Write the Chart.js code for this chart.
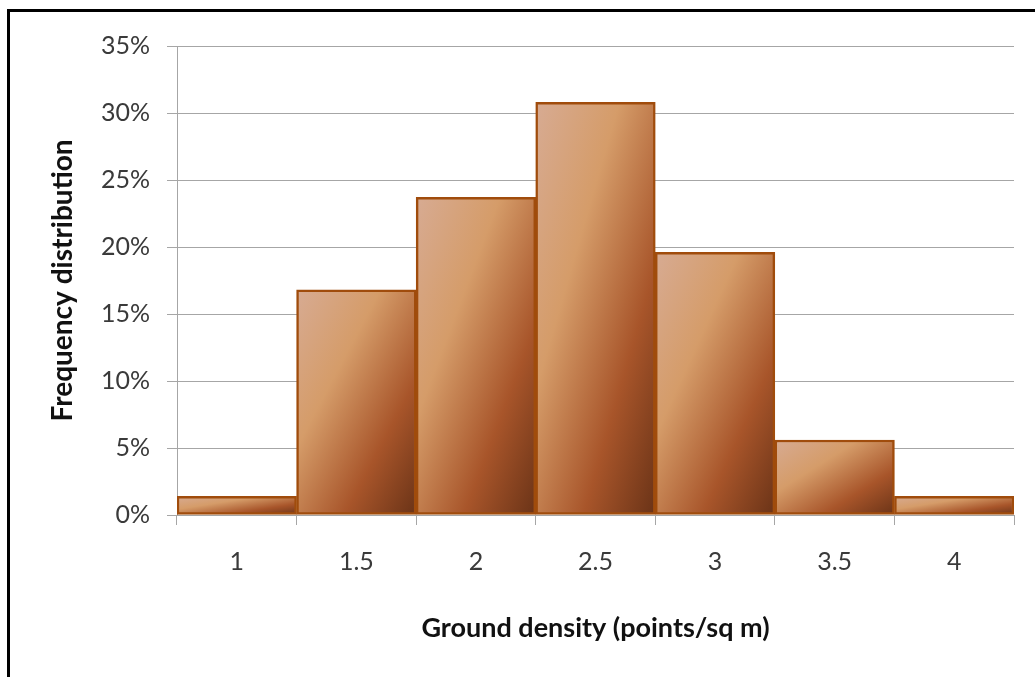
<!DOCTYPE html>
<html>
<head>
<meta charset="utf-8">
<script src="https://cdn.jsdelivr.net/npm/chart.js@4/dist/chart.umd.min.js"></script>
<style>
  html, body { margin: 0; padding: 0; background: #fff; }
  #wrap { position: relative; width: 1035px; height: 677px; overflow: hidden; }
  #frame {
    position: absolute; left: 7px; top: 9px; right: -10px; bottom: -10px;
    border-top: 3px solid #000; border-left: 3px solid #000;
    pointer-events: none;
  }
  canvas { position: absolute; left: 0; top: 0; }
</style>
</head>
<body>
<div id="wrap">
  <canvas id="chart" width="1035" height="677"></canvas>
  <div id="frame"></div>
</div>
<script>
// Ground density bins (points per square metre)
const categories = ['1', '1.5', '2', '2.5', '3', '3.5', '4'];
// Share of samples in each bin, in percent
const frequency = [1.4, 16.8, 23.7, 30.8, 19.6, 5.6, 1.4];
// Y axis tick range (percent)
const yTicks = { min: 0, max: 35, step: 5 };

const FONT = "Lato, 'Open Sans', sans-serif";

// Diagonal copper gradient, stretched to each bar's own box so that the
// bands run corner to corner whatever the bar's shape.
function barGradient(context) {
  const chart = context.chart;
  const area = chart.chartArea;
  if (!area || context.type !== 'data') return '#b06a3c';
  const xs = chart.scales.x, ys = chart.scales.y;
  const v = context.parsed ? context.parsed.y : frequency[context.dataIndex];
  const w = (xs.right - xs.left) / categories.length;
  const cx = xs.getPixelForValue(context.dataIndex);
  const top = ys.getPixelForValue(v);
  const base = ys.getPixelForValue(0);
  const h = Math.max(base - top, 1);
  const cy = (top + base) / 2;
  const k = (w * h) / (w * w + h * h);
  const g = chart.ctx.createLinearGradient(cx - k * h, cy - k * w, cx + k * h, cy + k * w);
  g.addColorStop(0.00, '#d7ab93');
  g.addColorStop(0.35, '#d59c69');
  g.addColorStop(0.70, '#a8552a');
  g.addColorStop(1.00, '#6a3317');
  return g;
}

new Chart(document.getElementById('chart'), {
  type: 'bar',
  data: {
    labels: categories,
    datasets: [{
      data: frequency,
      backgroundColor: barGradient,
      borderColor: '#a04c0c',
      borderWidth: 2.5,
      borderSkipped: false,
      barPercentage: 1,
      categoryPercentage: 1
    }]
  },
  options: {
    responsive: false,
    animation: false,
    events: [],
    layout: { padding: { left: 40, top: 46, right: 21, bottom: 30 } },
    plugins: { legend: { display: false }, tooltip: { enabled: false } },
    scales: {
      x: {
        offset: true,
        grid: {
          offset: true,
          drawOnChartArea: false,
          drawTicks: true,
          tickLength: 10,
          color: '#a6a6a6',
          lineWidth: 1
        },
        border: { display: true, color: '#a6a6a6', width: 1 },
        ticks: {
          padding: 22,
          color: '#3a3a3a',
          font: { family: FONT, size: 25 },
          maxRotation: 0
        },
        title: {
          display: true,
          text: 'Ground density (points/sq m)',
          color: '#111111',
          font: { family: FONT, size: 27, weight: 'bold' },
          padding: { top: 0, bottom: 3 }
        },
        afterFit(scale) { scale.height = 132; }
      },
      y: {
        min: yTicks.min,
        max: yTicks.max,
        grid: {
          color: '#a6a6a6',
          lineWidth: 1,
          drawTicks: true,
          tickLength: 10
        },
        border: { display: true, color: '#a6a6a6', width: 1 },
        ticks: {
          stepSize: yTicks.step,
          padding: 17,
          color: '#3a3a3a',
          font: { family: FONT, size: 25 },
          callback: (v) => v + '%'
        },
        title: {
          display: true,
          text: 'Frequency distribution',
          color: '#111111',
          font: { family: FONT, size: 28, weight: 'bold' },
          padding: { top: 6, bottom: 0 }
        },
        afterFit(scale) { scale.width = 137; }
      }
    }
  }
});
</script>
</body>
</html>
